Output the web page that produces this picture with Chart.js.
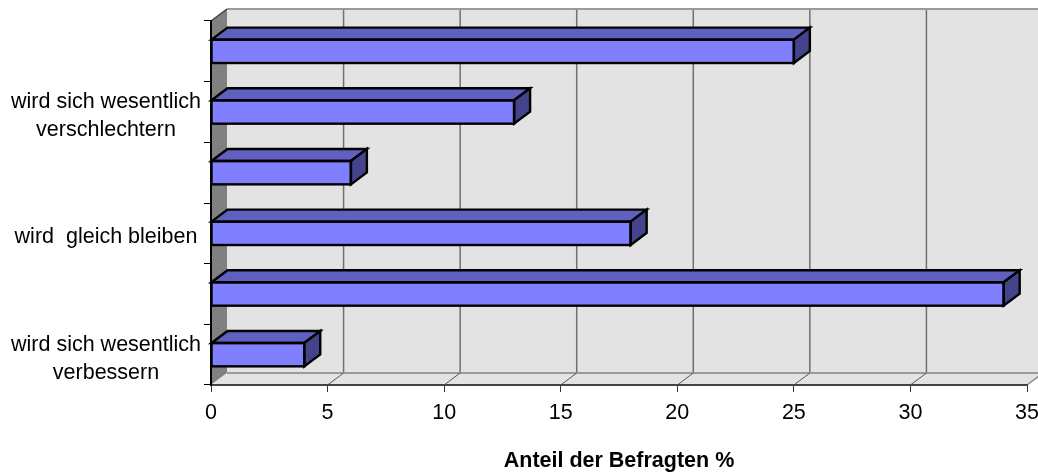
<!DOCTYPE html>
<html><head><meta charset="utf-8">
<script src="https://cdn.jsdelivr.net/npm/chart.js@4"></script>
<style>html,body{margin:0;padding:0;background:#fff}#w{width:1038px;height:475px}</style>
</head><body><div id="w"><canvas id="c"></canvas></div>
<script>
const categories = ['', ['wird sich wesentlich', 'verschlechtern'], '', 'wird  gleich bleiben', '', ['wird sich wesentlich', 'verbessern']];
const values = [25, 13, 6, 18, 34, 4];
const xTicks = [0, 5, 10, 15, 20, 25, 30, 35];
const axisTitle = 'Anteil der Befragten %';

const FONT = 'Liberation Sans, Arial, sans-serif';
const DX = 16, DY = -12;

function line(ctx, x1, y1, x2, y2) { ctx.beginPath(); ctx.moveTo(x1, y1); ctx.lineTo(x2, y2); ctx.stroke(); }
function poly(ctx, pts) { ctx.beginPath(); ctx.moveTo(pts[0][0], pts[0][1]); for (let i = 1; i < pts.length; i++) ctx.lineTo(pts[i][0], pts[i][1]); ctx.closePath(); }

const threeD = {
  id: 'threeD',
  beforeDraw(chart) {
    const {ctx, chartArea: a, scales: {x}} = chart;
    const W = chart.width;
    ctx.save();
    ctx.fillStyle = '#fff'; ctx.fillRect(0, 0, W, chart.height);
    const x0 = x.getPixelForValue(x.min), x1 = x.getPixelForValue(x.max);
    const t = a.top, b = a.bottom;
    // back wall
    ctx.fillStyle = '#e3e3e3';
    ctx.fillRect(x0 + DX, t + DY, W - (x0 + DX), b - t);
    // back grid lines
    ctx.strokeStyle = '#707070'; ctx.lineWidth = 1.5;
    x.ticks.forEach(tk => {
      const px = x.getPixelForValue(tk.value) + DX;
      if (px > x0 + DX + 1 && px < W) line(ctx, px, t + DY, px, b + DY);
    });
    // top edge
    ctx.strokeStyle = '#9a9a9a'; ctx.lineWidth = 2;
    line(ctx, x0 + DX, t + DY, W, t + DY);
    // side wall
    ctx.fillStyle = '#808080';
    poly(ctx, [[x0, t], [x0 + DX, t + DY], [x0 + DX, b + DY], [x0, b]]); ctx.fill();
    // floor
    ctx.fillStyle = '#e3e3e3';
    poly(ctx, [[x0, b], [x0 + DX, b + DY], [x1 + DX, b + DY], [x1, b]]); ctx.fill();
    ctx.strokeStyle = '#9a9a9a'; ctx.lineWidth = 2;
    line(ctx, x0 + DX, b + DY, W, b + DY);
    ctx.strokeStyle = '#8a8a8a'; ctx.lineWidth = 1.5;
    line(ctx, x1, b, x1 + DX, b + DY);
    // floor diagonals
    ctx.strokeStyle = '#555'; ctx.lineWidth = 1;
    x.ticks.forEach(tk => {
      const px = x.getPixelForValue(tk.value);
      if (px > x0 + 1 && px < x1 - 1) line(ctx, px, b, px + DX, b + DY);
    });
    // top-left edge
    ctx.strokeStyle = '#404040'; ctx.lineWidth = 1.5;
    line(ctx, x0, t, x0 + DX, t + DY);
    ctx.restore();
  },
  afterDatasetsDraw(chart) {
    const {ctx} = chart;
    const meta = chart.getDatasetMeta(0);
    ctx.save();
    ctx.lineWidth = 2.4; ctx.strokeStyle = '#000'; ctx.lineJoin = 'miter';
    meta.data.forEach(el => {
      const {x, y, base, height} = el.getProps(['x', 'y', 'base', 'height'], true);
      const top = y - height / 2, bot = y + height / 2;
      // top face
      ctx.fillStyle = '#6060c0';
      poly(ctx, [[base, top], [base + DX, top + DY], [x + DX, top + DY], [x, top]]);
      ctx.fill(); ctx.stroke();
      // side face
      ctx.fillStyle = '#44448c';
      poly(ctx, [[x, top], [x + DX, top + DY], [x + DX, bot + DY], [x, bot]]);
      ctx.fill(); ctx.stroke();
      // front outline
      ctx.strokeRect(base, top, x - base, height);
    });
    ctx.restore();
  }
};

new Chart(document.getElementById('c'), {
  type: 'bar',
  data: {
    labels: categories,
    datasets: [{
      data: values,
      backgroundColor: '#8080ff',
      borderColor: '#000',
      borderWidth: 0,
      borderSkipped: false,
      barPercentage: 0.385,
      categoryPercentage: 1
    }]
  },
  options: {
    indexAxis: 'y',
    responsive: true,
    maintainAspectRatio: false,
    animation: false,
    layout: {padding: {top: 21, right: 11, left: 0, bottom: 0}},
    plugins: {legend: {display: false}, tooltip: {enabled: false}},
    scales: {
      x: {
        type: 'linear',
        min: xTicks[0],
        max: xTicks[xTicks.length - 1],
        ticks: {stepSize: xTicks[1] - xTicks[0], color: '#000', font: {family: FONT, size: 21.5}, padding: 8, maxRotation: 0},
        grid: {drawOnChartArea: false, drawTicks: true, tickLength: 7, color: '#333', lineWidth: 1},
        border: {display: true, color: '#444', width: 2},
        title: {display: true, text: axisTitle, color: '#000', font: {family: FONT, size: 21.5, weight: 'bold'}, padding: {top: 0, bottom: 1}},
        afterFit(s) { s.height = 90; s.paddingLeft = 0; s.paddingRight = 0; }
      },
      y: {
        ticks: {color: '#000', font: {family: FONT, size: 21.5, lineHeight: 1.3}, crossAlign: 'center', padding: 3, labelOffset: 4, autoSkip: false},
        grid: {drawOnChartArea: false, drawTicks: true, tickLength: 7, color: '#000', offset: true},
        border: {display: true, color: '#000', width: 2},
        afterFit(s) { s.width = 211; s.paddingTop = 0; s.paddingBottom = 0; }
      }
    }
  },
  plugins: [threeD]
});
</script>
</body></html>
